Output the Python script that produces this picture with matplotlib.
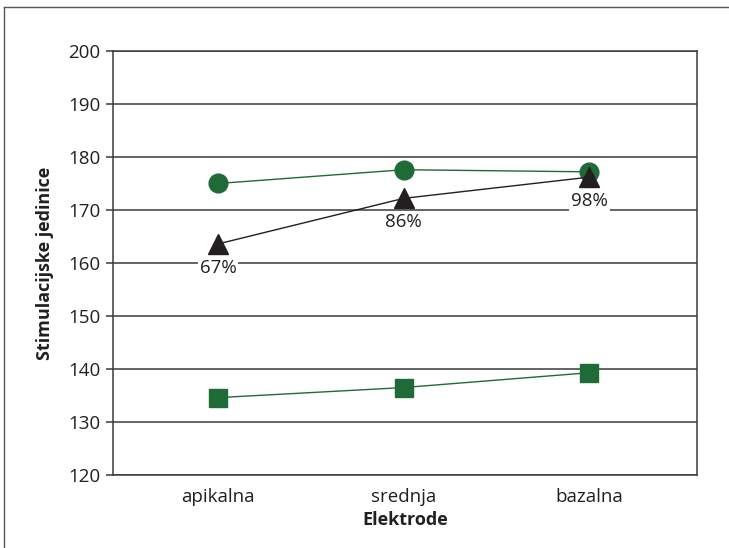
import matplotlib
matplotlib.use("Agg")
import matplotlib.pyplot as plt
from matplotlib.lines import Line2D

plt.rcParams['font.family'] = ['Open Sans', 'DejaVu Sans']

categories = ["apikalna", "srednja", "bazalna"]
circle_vals = [175.0, 177.6, 177.2]
triangle_vals = [163.6, 172.2, 176.2]
square_vals = [134.6, 136.5, 139.3]
triangle_labels = ["67%", "86%", "98%"]
yticks = [120, 130, 140, 150, 160, 170, 180, 190, 200]

green = "#1f6b38"
dark = "#231f20"

fig = plt.figure(figsize=(7.29, 5.48), dpi=100)
ax = fig.add_axes([113/729, 1-475/548, (697-113)/729, (475-51)/548])

x = list(range(len(categories)))
ax.plot(x, circle_vals, color=green, lw=1, marker="o", ms=13.5, zorder=3)
ax.plot(x, square_vals, color=green, lw=1, marker="s", ms=13, zorder=3)
ax.plot(x, triangle_vals, color=dark, lw=1, marker="^", ms=15, zorder=4)
for xi, yi, lab in zip(x, triangle_vals, triangle_labels):
    ax.annotate(lab, (xi, yi), xytext=(0, -17), textcoords="offset points",
                ha="center", va="center", fontsize=13.5, color=dark, zorder=5,
                bbox=dict(boxstyle="square,pad=0.1", fc="white", ec="none"))

ax.set_xlim(-0.566, 2.58)
ax.set_ylim(120, 200)
ax.set_yticks(yticks)
ax.set_xticks(x)
ax.set_xticklabels(categories)
ax.yaxis.grid(True, color="#3a3a3a", lw=1.1)
ax.set_axisbelow(True)
for s in ax.spines.values():
    s.set_color("#3a3a3a")
    s.set_linewidth(1.1)
ax.tick_params(axis="y", length=5, width=1.1, color="#3a3a3a", labelsize=13.5, pad=4, labelcolor=dark)
ax.tick_params(axis="x", length=0, labelsize=13.5, pad=9, labelcolor=dark)
ax.set_xlabel("Elektrode", fontsize=13, fontweight="bold", color=dark, labelpad=4)
ax.set_ylabel("Stimulacijske jedinice", fontsize=13, fontweight="bold", color=dark, labelpad=10)

fig.add_artist(Line2D([4/729, 4/729], [0, 1-7/548], color="#555555", lw=1, transform=fig.transFigure))
fig.add_artist(Line2D([4/729, 1], [1-7/548, 1-7/548], color="#555555", lw=1, transform=fig.transFigure))

fig.savefig("out.png", dpi=100)
